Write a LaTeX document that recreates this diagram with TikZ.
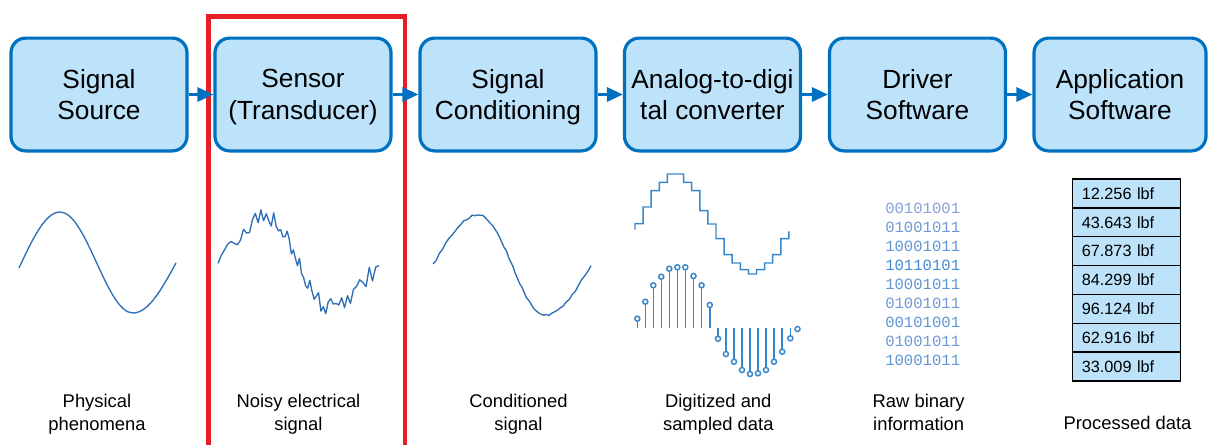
\documentclass[tikz,border=0pt]{standalone}
\usepackage{fontspec}
\setmainfont{Liberation Sans}
\setmonofont{Liberation Mono}
\usetikzlibrary{arrows.meta}
\definecolor{boxline}{RGB}{0,112,192}
\definecolor{boxfill}{RGB}{189,227,251}
\definecolor{wavecol}{RGB}{46,110,180}
\definecolor{digi}{RGB}{55,135,205}
\definecolor{markred}{RGB}{232,30,38}
\definecolor{bitA}{RGB}{135,160,215}
\definecolor{bitB}{RGB}{112,152,214}
\definecolor{bitC}{RGB}{95,150,215}
\definecolor{bitD}{RGB}{65,140,215}

\begin{document}
\begin{tikzpicture}[x=0.75pt, y=-0.75pt]
            \tikzstyle{stage} = [draw=boxline, fill=boxfill, line width=2.4pt, rounded corners=11pt, minimum width=132pt, minimum height=84.6pt, align=center, inner sep=0pt, text depth=0pt, font=\fontsize{19.7}{23.8}\selectfont]
            \tikzstyle{flow} = [draw=boxline, line width=2.4pt, -{Triangle[length=12pt, width=10.5pt]}]
            \tikzstyle{caption} = [align=center, text depth=0pt, font=\fontsize{13.8}{17.3}\selectfont]
            \tikzstyle{signal} = [wavecol, line width=1pt, line join=round]
            \tikzstyle{cell} = [draw, fill=boxfill, line width=1pt, minimum height=21.65pt, text width=67pt, inner xsep=7pt, align=left, font=\fontsize{12.2}{14}\selectfont]
            \tikzstyle{bits} = [inner sep=0pt, anchor=west, font=\ttfamily\fontsize{11.7}{14}\selectfont]
            \useasboundingbox (0,0) rectangle (1208,444);

            \draw[markred, line width=3.3pt] (208.5,450) |- (405,16.5) -- (405,450);

            \node[stage] (src) at (99,94.5) {Signal\\Source};
            \node[stage] (sens) at (303,94.5) {Sensor\\(Transducer)};
            \node[stage] (cond) at (508,94.5) {Signal\\Conditioning};
            \node[stage] (adc) at (712.5,94.5) {Analog-to-digi\\tal converter};
            \node[stage] (drv) at (917.5,94.5) {Driver\\Software};
            \node[stage, minimum width=129pt] (app) at (1120,94.5) {Application\\Software};
            \draw[flow] (src) -- (sens);
            \draw[flow] (sens) -- (cond);
            \draw[flow] (cond) -- (adc);
            \draw[flow] (adc) -- (drv);
            \draw[flow] (drv) -- (app);

            \draw[signal] (19,268) sin (60,212) cos (96.5,262.5) sin (133,313) cos (176,263);
            \pgfmathsetseed{11}
            \draw[signal] plot[domain=0:360, samples=62, variable=\t] ({218+0.4472*\t+6*sin(\t)}, {263-45*sin(\t)+10*rand});
            \draw[signal] plot[domain=0:360, samples=60, variable=\t] ({433+0.4389*\t+4.5*sin(\t)}, {265-50*sin(\t)+1.1*rand});

            \draw[digi, line width=1.1pt] (635,229.7) foreach \y [count=\k] in {223.7,207,190.7,182.3,174,174,182.3,190.7,210.7,224,238.7,254.7,263,269.7,274,269.7,263,254.7,238.7} { |- ({635+8.1*\k},\y) } -- (788.9,231.3);
            \foreach \x/\y in {637.3/318.7, 645.3/301.7, 653.3/285.3, 661.3/276.7, 669.3/268.7, 677.3/267.3, 685.3/267.3, 693.5/276, 701.6/285.3, 709.8/305, 718/338.7, 725.9/354, 734/361.7, 742/370, 750/374, 758/373.3, 766/370, 774/361.7, 782.2/351.7, 790.3/338.3, 797.5/329} {
                \draw[digi, line width=1.1pt] (\x,327.7) -- (\x,\y);
                \draw[digi, line width=1.1pt, fill=white] (\x,\y) circle[radius=1.9pt];
            }

            \foreach \b/\c [count=\i] in {00101001/bitA, 01001011/bitB, 10001011/bitC, 10110101/bitD, 10001011/bitC, 01001011/bitB, 00101001/bitC, 01001011/bitB, 10001011/bitC}
                \node[bits, text=\c] (bits\i) at (885,{189.25+19.05*\i}) {\b};

            \foreach \v [count=\i] in {12.256, 43.643, 67.873, 84.299, 96.124, 62.916, 33.009}
                \node[cell] (val\i) at (1126.5,{164.57+28.86*\i}) {\v\ lbf};

            \node[caption] (capsrc) at (97,412) {Physical\\phenomena};
            \node[caption] (capsens) at (298.5,412) {Noisy electrical\\signal};
            \node[caption] (capcond) at (518.5,412) {Conditioned\\signal};
            \node[caption] (capadc) at (718.3,412) {Digitized and\\sampled data};
            \node[caption] (capdrv) at (918.7,412) {Raw binary\\information};
            \node[caption] (capapp) at (1127.5,423.3) {Processed data};
\end{tikzpicture}
\end{document}
